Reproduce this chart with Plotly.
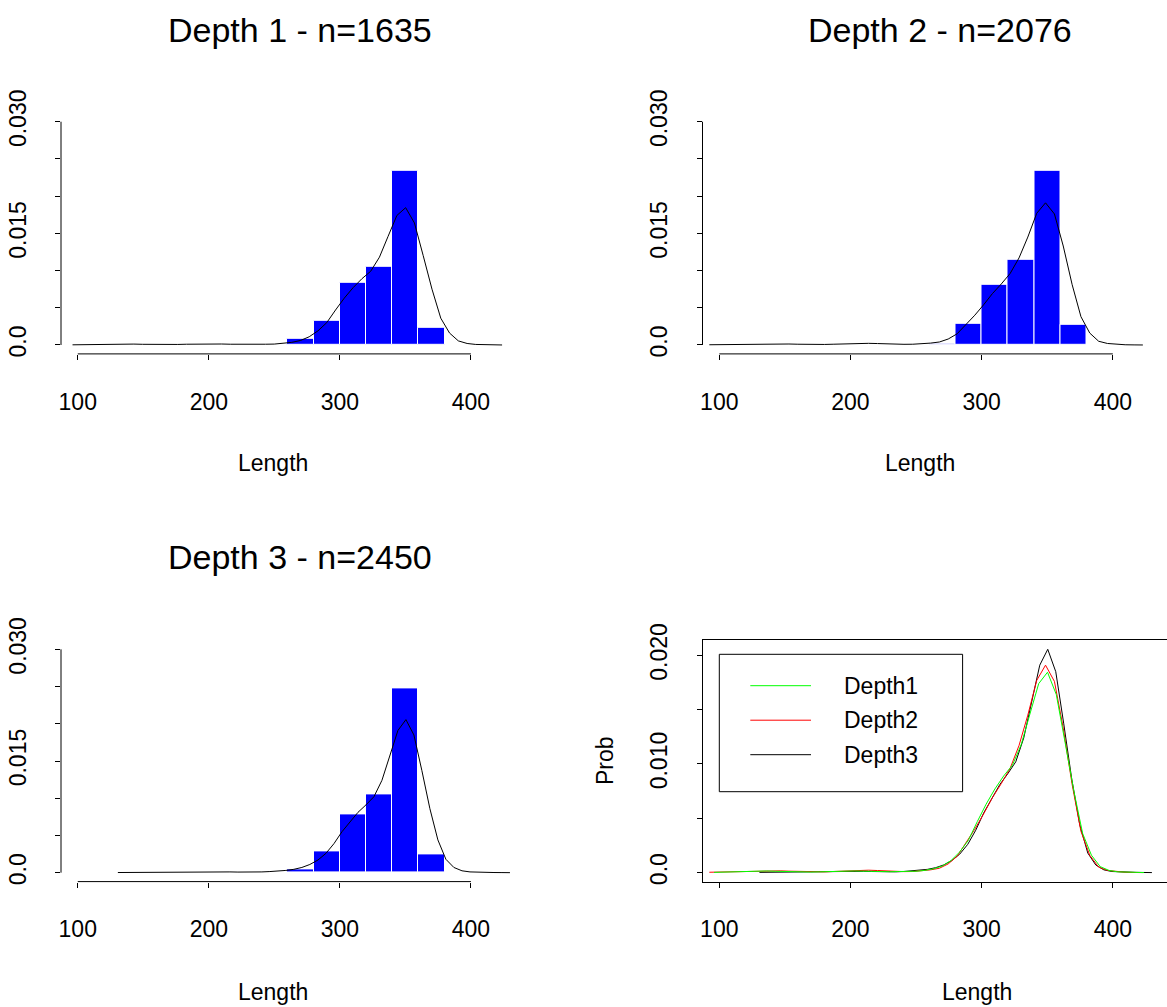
import plotly.graph_objects as go

# ---- data -------------------------------------------------------------
bin_edges = [260, 280, 300, 320, 340, 360, 380, 400]
hist_depth1 = [0.00081, 0.00322, 0.00837, 0.01048, 0.02338, 0.00233, 0.0]
hist_depth2 = [0.0001, 0.00291, 0.0081, 0.01146, 0.02338, 0.00269, 0.0]
hist_depth3 = [0.0005, 0.00282, 0.00783, 0.01048, 0.02476, 0.00246, 0.0001]

len_depth1 = [96.0, 102.7, 109.4, 116.1, 122.8, 129.5, 136.1, 142.8, 149.5, 156.2,
              162.9, 169.6, 176.3, 183.0, 189.7, 196.4, 203.0, 209.7, 216.4, 223.1,
              229.8, 236.5, 243.2, 249.9, 256.6, 263.3, 269.9, 276.6, 283.3, 290.0,
              296.7, 303.4, 310.1, 316.8, 323.5, 330.2, 336.8, 343.5, 350.2, 356.9,
              363.6, 370.3, 377.0, 383.7, 390.4, 397.1, 403.7, 410.4, 417.1, 423.8]
dens_depth1 = [0.00002, 0.00004, 0.00008, 0.00012, 0.00015, 0.00016, 0.00015, 0.00012, 0.00009, 0.00006,
               0.00005, 0.00005, 0.00007, 0.0001, 0.00013, 0.00015, 0.00015, 0.00013, 0.0001, 0.00008,
               0.00008, 0.0001, 0.0001, 0.00012, 0.0002, 0.00035, 0.0006, 0.0011, 0.0019, 0.0030,
               0.0047, 0.0063, 0.0077, 0.0089, 0.0099, 0.0118, 0.0146, 0.0174, 0.01845, 0.0164,
               0.0120, 0.0075, 0.0036, 0.0016, 0.00055, 0.0002, 0.00007, 0.00003, 0.00001, 0.0]

len_depth2 = [92.4, 99.1, 105.9, 112.6, 119.4, 126.1, 132.9, 139.6, 146.4, 153.1,
              159.9, 166.6, 173.3, 180.1, 186.8, 193.6, 200.3, 207.1, 213.8, 220.6,
              227.3, 234.0, 240.8, 247.5, 254.3, 261.0, 267.8, 274.5, 281.3, 288.0,
              294.8, 301.5, 308.2, 315.0, 321.7, 328.5, 335.2, 342.0, 348.7, 355.5,
              362.2, 369.0, 375.7, 382.4, 389.2, 395.9, 402.7, 409.4, 416.2, 422.9]
dens_depth2 = [0.00003, 0.00005, 0.00007, 0.0001, 0.00012, 0.00014, 0.00016, 0.00017, 0.00016, 0.00013,
               0.0001, 0.00007, 0.00006, 0.00007, 0.0001, 0.00014, 0.00018, 0.00021, 0.00022, 0.00019,
               0.00014, 0.0001, 0.00009, 0.0001, 0.00015, 0.00025, 0.0004, 0.0008, 0.0015, 0.0027,
               0.0040, 0.0054, 0.0069, 0.0082, 0.0096, 0.0117, 0.0145, 0.0177, 0.0191, 0.0176,
               0.0133, 0.0081, 0.0038, 0.0016, 0.0005, 0.0002, 0.00008, 0.00003, 0.00001, 0.0]

len_depth3 = [130.6, 136.7, 142.8, 148.9, 155.0, 161.1, 167.2, 173.3, 179.4, 185.6,
              191.7, 197.8, 203.9, 210.0, 216.1, 222.2, 228.3, 234.4, 240.5, 246.6,
              252.7, 258.8, 264.9, 271.0, 277.1, 283.3, 289.4, 295.5, 301.6, 307.7,
              313.8, 319.9, 326.0, 332.1, 338.2, 344.3, 350.4, 356.5, 362.6, 368.7,
              374.8, 380.9, 387.0, 393.2, 399.3, 405.4, 411.5, 417.6, 423.7, 429.8]
dens_depth3 = [0.00002, 0.00003, 0.00004, 0.00005, 0.00006, 0.00007, 0.00008, 0.0001, 0.00012, 0.00014,
               0.00015, 0.00015, 0.00014, 0.00012, 0.0001, 0.00008, 0.00006, 0.00007, 0.0001, 0.00015,
               0.0002, 0.0003, 0.00045, 0.0007, 0.0011, 0.0017, 0.0026, 0.0039, 0.0055, 0.0068,
               0.0081, 0.0091, 0.0102, 0.0124, 0.0157, 0.0191, 0.02056, 0.0185, 0.0137, 0.0086,
               0.0044, 0.0018, 0.0007, 0.00025, 0.0001, 0.00005, 0.00003, 0.00002, 0.00001, 0.0]

panel_titles = ["Depth 1 - n=1635", "Depth 2 - n=2076", "Depth 3 - n=2450"]
series_names = ["Depth1", "Depth2", "Depth3"]
series_colors = ["#00ff00", "#ff0000", "#000000"]

x_ticks = [100, 200, 300, 400]
hist_yticks = [0.0, 0.005, 0.010, 0.015, 0.020, 0.025, 0.030]
hist_ylabels = ["0.0", "", "", "0.015", "", "", "0.030"]
prob_yticks = [0.0, 0.005, 0.010, 0.015, 0.020]
prob_ylabels = ["0.0", "", "0.010", "", "0.020"]

# ---- layout geometry --------------------------------------------------
W, H = 1167, 1007
FONT = "Liberation Sans, Arial, sans-serif"
TICK_FS = 23


def px_x(p):
    return p / W


def px_y(p):
    return 1 - p / H


col_dom = [[px_x(61), px_x(538)], [px_x(702.5), 1.0]]
row_dom = [[px_y(353.9), px_y(112.8)], [px_y(881.6), px_y(640.4)]]
col_range = [[87.2, 451.2], [87.2, 441.3]]

fig = go.Figure()

hist_sets = [hist_depth1, hist_depth2, hist_depth3]
dens_sets = [(len_depth1, dens_depth1), (len_depth2, dens_depth2), (len_depth3, dens_depth3)]
panel_pos = [(0, 0), (1, 0), (0, 1)]  # (column, row)

mids = [(a + b) / 2 for a, b in zip(bin_edges[:-1], bin_edges[1:])]
widths = [b - a for a, b in zip(bin_edges[:-1], bin_edges[1:])]

shapes = []
annotations = []

tick_font = dict(family=FONT, size=TICK_FS, color="#000")

for i, (hist, (lx, dy), (c, r)) in enumerate(zip(hist_sets, dens_sets, panel_pos)):
    ax = "" if i == 0 else str(i + 1)
    keep = [k for k, v in enumerate(hist) if v > 0]
    fig.add_trace(go.Bar(
        x=[mids[k] for k in keep], y=[hist[k] for k in keep],
        width=[widths[k] for k in keep],
        marker=dict(color="#0000ff", line=dict(color="#ffffff", width=1)),
        xaxis="x" + ax, yaxis="y" + ax, showlegend=False, hoverinfo="skip"))
    fig.add_trace(go.Scatter(
        x=lx, y=dy, mode="lines", line=dict(color="#000000", width=1),
        xaxis="x" + ax, yaxis="y" + ax, showlegend=False, hoverinfo="skip"))

    fig.layout["xaxis" + ax] = dict(
        domain=col_dom[c], range=col_range[c], anchor="y" + ax, automargin=False,
        tickvals=x_ticks, ticktext=[str(t) for t in x_ticks],
        ticks="outside", ticklen=5, tickcolor="#000", tickwidth=1,
        ticklabelstandoff=22, showline=False, showgrid=False, zeroline=False,
        tickfont=tick_font)
    fig.layout["yaxis" + ax] = dict(
        domain=row_dom[r], range=[-0.0012, 0.0312], anchor="x" + ax, automargin=False,
        tickvals=hist_yticks, ticktext=hist_ylabels, tickangle=-90,
        ticks="outside", ticklen=5, tickcolor="#000", tickwidth=1,
        ticklabelstandoff=20, showline=False, showgrid=False, zeroline=False,
        tickfont=tick_font)

    # R-style axis lines spanning only the tick range
    shapes.append(dict(type="line", xref="x" + ax, yref=f"y{ax} domain",
                       x0=x_ticks[0], x1=x_ticks[-1], y0=0, y1=0,
                       line=dict(color="#000", width=1)))
    shapes.append(dict(type="line", xref=f"x{ax} domain", yref="y" + ax,
                       x0=0, x1=0, y0=hist_yticks[0], y1=hist_yticks[-1],
                       line=dict(color="#000", width=1)))

# ---- comparison panel -------------------------------------------------
for k in [2, 1, 0]:
    lx, dy = dens_sets[k]
    fig.add_trace(go.Scatter(
        x=lx, y=dy, mode="lines", line=dict(color=series_colors[k], width=1),
        xaxis="x4", yaxis="y4", showlegend=False, hoverinfo="skip"))

fig.layout["xaxis4"] = dict(
    domain=col_dom[1], range=col_range[1], anchor="y4", automargin=False,
    tickvals=x_ticks, ticktext=[str(t) for t in x_ticks],
    ticks="outside", ticklen=5, tickcolor="#000", tickwidth=1,
    ticklabelstandoff=22, showline=True, linecolor="#000", linewidth=1, mirror=True,
    showgrid=False, zeroline=False, tickfont=tick_font)
fig.layout["yaxis4"] = dict(
    domain=row_dom[1], range=[-0.00083, 0.02138], anchor="x4", automargin=False,
    tickvals=prob_yticks, ticktext=prob_ylabels, tickangle=-90,
    ticks="outside", ticklen=5, tickcolor="#000", tickwidth=1,
    ticklabelstandoff=20, showline=True, linecolor="#000", linewidth=1,
    showgrid=False, zeroline=False, tickfont=tick_font)

# legend box
shapes.append(dict(type="rect", xref="paper", yref="paper",
                   x0=px_x(719.3), x1=px_x(962.6), y0=px_y(791.7), y1=px_y(654.3),
                   line=dict(color="#000", width=1), fillcolor="rgba(0,0,0,0)"))
for j, (name, col) in enumerate(zip(series_names, series_colors)):
    yy = 685.7 + j * 34.5
    shapes.append(dict(type="line", xref="paper", yref="paper",
                       x0=px_x(750.3), x1=px_x(811), y0=px_y(yy), y1=px_y(yy),
                       line=dict(color=col, width=1)))
    annotations.append(dict(text=name, xref="paper", yref="paper",
                            x=px_x(842), y=px_y(yy), xanchor="left", yanchor="middle",
                            showarrow=False, font=tick_font))

# titles and axis labels
title_pos = [(299.5, 30), (940, 30), (299.5, 557)]
for t, (tx, ty) in zip(panel_titles, title_pos):
    annotations.append(dict(text=t, xref="paper", yref="paper", x=px_x(tx), y=px_y(ty),
                            xanchor="center", yanchor="middle", showarrow=False,
                            font=dict(family=FONT, size=34, color="#000")))
for lx_, ly_ in [(273, 463), (920, 463), (273, 992), (977, 992)]:
    annotations.append(dict(text="Length", xref="paper", yref="paper", x=px_x(lx_), y=px_y(ly_),
                            xanchor="center", yanchor="middle", showarrow=False,
                            font=tick_font))
annotations.append(dict(text="Prob", xref="paper", yref="paper", x=px_x(605), y=px_y(761),
                        xanchor="center", yanchor="middle", textangle=-90, showarrow=False,
                        font=tick_font))

fig.update_layout(
    template="none",
    width=W, height=H, margin=dict(l=0, r=0, t=0, b=0, pad=0, autoexpand=False),
    paper_bgcolor="#ffffff", plot_bgcolor="#ffffff",
    bargap=0, showlegend=False, shapes=shapes, annotations=annotations,
    font=dict(family=FONT, color="#000"))

fig.write_html("out.html")
